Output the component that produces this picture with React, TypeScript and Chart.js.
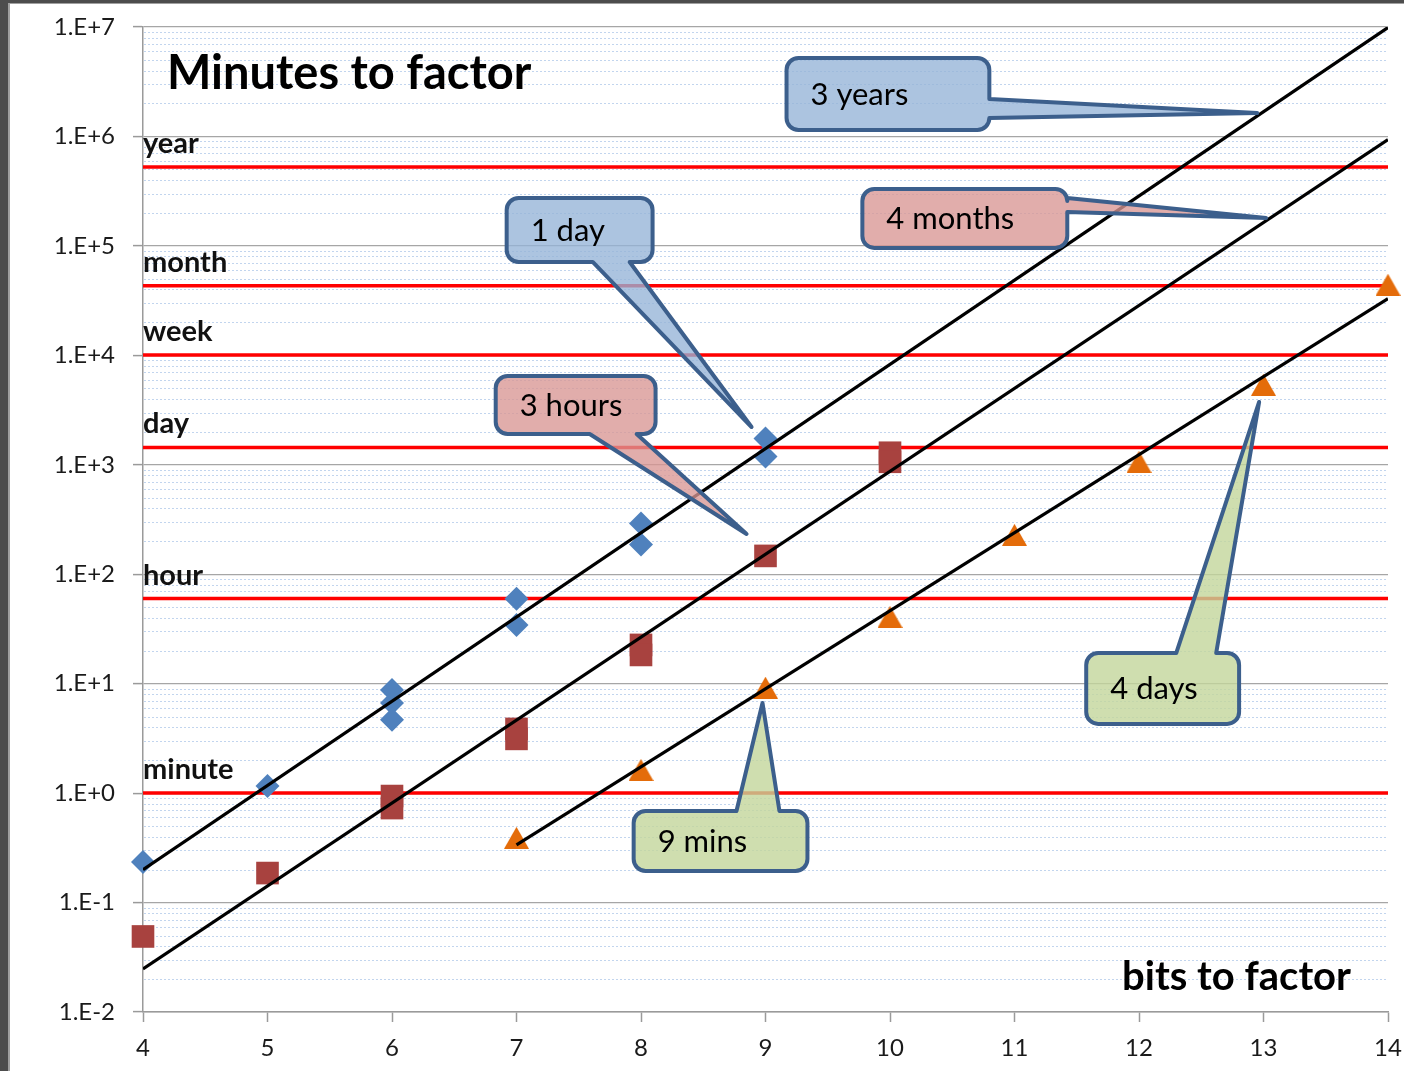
import React, { useEffect, useRef } from 'react';
import { Chart, registerables } from 'chart.js';

Chart.register(...registerables);

// ---------------- data ----------------
const bitTicks = [4, 5, 6, 7, 8, 9, 10, 11, 12, 13, 14];
const yTickValues = [1e-2, 1e-1, 1e0, 1e1, 1e2, 1e3, 1e4, 1e5, 1e6, 1e7];
const yTickLabels = ['1.E-2', '1.E-1', '1.E+0', '1.E+1', '1.E+2', '1.E+3', '1.E+4', '1.E+5', '1.E+6', '1.E+7'];

const blueBits = [4, 5, 6, 6, 6, 7, 7, 8, 8, 9, 9];
const blueMinutes = [0.235, 1.16, 8.77, 6.67, 4.67, 59.6, 34.4, 291, 187, 1738, 1191];

const redBits = [4, 5, 6, 6, 7, 7, 8, 8, 9, 10, 10];
const redMinutes = [0.049, 0.186, 0.94, 0.73, 3.86, 3.13, 22.6, 18.3, 147, 1288, 1065];

const orangeBits = [7, 8, 9, 10, 11, 12, 13, 14];
const orangeMinutes = [0.39, 1.63, 9.2, 40.8, 229, 1065, 5380, 44200];

const fitBlueBits = [4, 14];
const fitBlueMinutes = [0.2, 9.9e6];
const fitRedBits = [4, 14];
const fitRedMinutes = [0.0247, 9.35e5];
const fitOrangeBits = [7, 14];
const fitOrangeMinutes = [0.336, 32900];

const unitNames = ['minute', 'hour', 'day', 'week', 'month', 'year'];
const unitMinutes = [1, 60, 1440, 10080, 43200, 525600];

const titleText = 'Minutes to factor';
const xTitleText = 'bits to factor';

// callouts: box corners / pointer base / tip in data coords (x in bits, y as log10 minutes)
const callouts = [
  { text: '3 years', color: 'blue', x1: 9.169, x2: 10.798, l1: 6.717, l2: 6.059, edge: 'right', a: 6.342, b: 6.169, tipX: 12.949, tipL: 6.214 },
  { text: '4 months', color: 'pink', x1: 9.778, x2: 11.424, l1: 5.52, l2: 4.981, edge: 'right', a: 5.438, b: 5.31, tipX: 13.021, tipL: 5.255 },
  { text: '1 day', color: 'blue', x1: 6.921, x2: 8.093, l1: 5.438, l2: 4.853, edge: 'bottom', a: 7.612, b: 7.909, tipX: 8.888, tipL: 3.345 },
  { text: '3 hours', color: 'pink', x1: 6.833, x2: 8.117, l1: 3.811, l2: 3.281, edge: 'bottom', a: 7.588, b: 7.965, tipX: 8.848, tipL: 2.368 },
  { text: '4 days', color: 'green', x1: 11.576, x2: 12.804, l1: 1.28, l2: 0.632, edge: 'top', a: 12.299, b: 12.62, tipX: 12.965, tipL: 3.574 },
  { text: '9 mins', color: 'green', x1: 7.941, x2: 9.337, l1: -0.163, l2: -0.712, edge: 'top', a: 8.767, b: 9.112, tipX: 8.976, tipL: 0.823 },
];

// ---------------- styles ----------------
const FONT = 'Lato, "Open Sans", sans-serif';
const calloutFill: Record<string, string> = {
  blue: 'rgba(149,179,215,0.78)',
  pink: 'rgba(217,150,148,0.78)',
  green: 'rgba(195,214,155,0.8)',
};
const calloutBorder = '#3C5F8C';

function zip(xs: number[], ys: number[]) {
  return xs.map((x, i) => ({ x, y: ys[i] }));
}

function makeTriangle(w: number, h: number, color: string) {
  const c = document.createElement('canvas');
  c.width = w;
  c.height = h;
  const g = c.getContext('2d')!;
  g.fillStyle = color;
  g.beginPath();
  g.moveTo(w / 2, 0);
  g.lineTo(w, h);
  g.lineTo(0, h);
  g.closePath();
  g.fill();
  return c;
}

const decorPlugin = {
  id: 'decor',
  beforeDraw(chart: any) {
    const ctx = chart.ctx;
    ctx.save();
    ctx.fillStyle = '#ffffff';
    ctx.fillRect(0, 0, chart.width, chart.height);
    ctx.fillStyle = '#4d4d4d';
    ctx.fillRect(0, 0, 8, chart.height);
    ctx.fillRect(0, 0, chart.width, 3);
    ctx.fillStyle = '#a0a0a0';
    ctx.fillRect(8, 3, 2, chart.height);
    ctx.fillRect(8, 3, chart.width, 1);
    ctx.restore();
  },
  beforeDatasetsDraw(chart: any) {
    const ctx = chart.ctx;
    const ys = chart.scales.y;
    const { left, right } = chart.chartArea;
    ctx.save();
    ctx.strokeStyle = '#c2d5ee';
    ctx.lineWidth = 1;
    ctx.setLineDash([2, 2]);
    for (let d = -2; d < 7; d++) {
      for (let m = 2; m <= 9; m++) {
        const py = Math.round(ys.getPixelForValue(m * Math.pow(10, d))) + 0.5;
        ctx.beginPath();
        ctx.moveTo(left + 1, py);
        ctx.lineTo(right, py);
        ctx.stroke();
      }
    }
    ctx.restore();
  },
  afterDatasetsDraw(chart: any) {
    const ctx = chart.ctx;
    const xs = chart.scales.x;
    const ys = chart.scales.y;
    const { left, top } = chart.chartArea;
    ctx.save();
    // unit labels
    ctx.fillStyle = '#111';
    ctx.font = `bold 29px ${FONT}`;
    ctx.textAlign = 'left';
    ctx.textBaseline = 'alphabetic';
    unitNames.forEach((n, i) => {
      const py = ys.getPixelForValue(unitMinutes[i]);
      ctx.fillText(n, xs.getPixelForValue(bitTicks[0]), py - 14);
    });
    // titles
    ctx.font = `bold 47px ${FONT}`;
    ctx.fillStyle = '#000';
    ctx.fillText(titleText, left + 24, top + 62);
    ctx.font = `bold 40px ${FONT}`;
    ctx.textAlign = 'right';
    ctx.fillText(xTitleText, xs.getPixelForValue(13.703), ys.getPixelForValue(0.0159));

    // callouts
    ctx.lineWidth = 4;
    ctx.lineJoin = 'round';
    callouts.forEach((c) => {
      const x1 = xs.getPixelForValue(c.x1);
      const x2 = xs.getPixelForValue(c.x2);
      const y1 = ys.getPixelForValue(Math.pow(10, c.l1));
      const y2 = ys.getPixelForValue(Math.pow(10, c.l2));
      const tx = xs.getPixelForValue(c.tipX);
      const ty = ys.getPixelForValue(Math.pow(10, c.tipL));
      let pa: number, pb: number;
      if (c.edge === 'right') {
        pa = ys.getPixelForValue(Math.pow(10, c.a));
        pb = ys.getPixelForValue(Math.pow(10, c.b));
      } else {
        pa = xs.getPixelForValue(c.a);
        pb = xs.getPixelForValue(c.b);
      }
      if (pa > pb) { const t = pa; pa = pb; pb = t; }
      const r = 12;
      ctx.beginPath();
      ctx.moveTo(x1 + r, y1);
      if (c.edge === 'top') { ctx.lineTo(pa, y1); ctx.lineTo(tx, ty); ctx.lineTo(pb, y1); }
      ctx.lineTo(x2 - r, y1);
      ctx.arcTo(x2, y1, x2, y1 + r, r);
      if (c.edge === 'right') { ctx.lineTo(x2, pa); ctx.lineTo(tx, ty); ctx.lineTo(x2, pb); }
      ctx.lineTo(x2, y2 - r);
      ctx.arcTo(x2, y2, x2 - r, y2, r);
      if (c.edge === 'bottom') { ctx.lineTo(pb, y2); ctx.lineTo(tx, ty); ctx.lineTo(pa, y2); }
      ctx.lineTo(x1 + r, y2);
      ctx.arcTo(x1, y2, x1, y2 - r, r);
      ctx.lineTo(x1, y1 + r);
      ctx.arcTo(x1, y1, x1 + r, y1, r);
      ctx.closePath();
      ctx.fillStyle = calloutFill[c.color];
      ctx.fill();
      ctx.strokeStyle = calloutBorder;
      ctx.stroke();
      ctx.fillStyle = '#000';
      ctx.font = `31px ${FONT}`;
      ctx.textAlign = 'left';
      ctx.textBaseline = 'middle';
      ctx.fillText(c.text, x1 + 24, (y1 + y2) / 2 + 1);
    });
    ctx.restore();
  },
};

export default function App() {
  const ref = useRef<HTMLCanvasElement>(null);
  useEffect(() => {
    if (!ref.current) return;
    const tri = makeTriangle(25, 22, '#E46C0A');
    const unitSets = unitNames.map((n, i) => ({
      type: 'scatter' as const,
      label: n,
      data: [{ x: bitTicks[0], y: unitMinutes[i] }, { x: bitTicks[bitTicks.length - 1], y: unitMinutes[i] }],
      showLine: true,
      borderColor: '#ff0000',
      borderWidth: 3.5,
      pointRadius: 0,
      order: 2,
      clip: false as any,
    }));
    const fitSet = (xs: number[], ys: number[]) => ({
      type: 'scatter' as const,
      data: zip(xs, ys),
      showLine: true,
      borderColor: '#000000',
      borderWidth: 3.2,
      pointRadius: 0,
      order: 0,
    });
    const chart = new Chart(ref.current, {
      type: 'scatter',
      data: {
        datasets: [
          ...unitSets,
          {
            data: zip(blueBits, blueMinutes),
            pointStyle: 'rectRot',
            pointRadius: 12,
            pointBackgroundColor: '#4F81BD',
            pointBorderWidth: 0,
            borderWidth: 0,
            order: 1,
            clip: false as any,
          },
          {
            data: zip(redBits, redMinutes),
            pointStyle: 'rect',
            pointRadius: 16,
            pointBackgroundColor: '#A8423F',
            pointBorderWidth: 0,
            borderWidth: 0,
            order: 1,
            clip: false as any,
          },
          {
            data: zip(orangeBits, orangeMinutes),
            pointStyle: tri as any,
            pointRadius: 12,
            pointBackgroundColor: '#E46C0A',
            pointBorderWidth: 0,
            borderWidth: 0,
            order: 1,
            clip: false as any,
          },
          fitSet(fitBlueBits, fitBlueMinutes),
          fitSet(fitRedBits, fitRedMinutes),
          fitSet(fitOrangeBits, fitOrangeMinutes),
        ] as any,
      },
      options: {
        responsive: false,
        animation: false,
        events: [],
        layout: { padding: { top: 27, right: 15, left: 0, bottom: 0 } },
        plugins: { legend: { display: false }, tooltip: { enabled: false } },
        scales: {
          x: {
            type: 'linear',
            min: bitTicks[0],
            max: bitTicks[bitTicks.length - 1],
            afterBuildTicks: (s: any) => { s.ticks = bitTicks.map((v) => ({ value: v })); },
            afterFit: (s: any) => { s.height = 59; s.paddingLeft = 0; s.paddingRight = 0; },
            grid: { drawOnChartArea: false, drawTicks: true, tickLength: 10, tickColor: '#9a9a9a', tickWidth: 1.5 },
            border: { display: true, color: '#9a9a9a', width: 1.5 },
            ticks: { color: '#1a1a1a', font: { family: FONT, size: 24 }, padding: 12, callback: (v: any) => String(v) },
          },
          y: {
            type: 'logarithmic',
            min: yTickValues[0],
            max: yTickValues[yTickValues.length - 1],
            afterBuildTicks: (s: any) => { s.ticks = yTickValues.map((v) => ({ value: v, major: true })); },
            afterFit: (s: any) => { s.width = 143; s.paddingTop = 0; s.paddingBottom = 0; },
            grid: { color: '#a6a6a6', lineWidth: 1.2, drawTicks: true, tickLength: 10, tickColor: '#9a9a9a', tickWidth: 1.5 },
            border: { display: true, color: '#9a9a9a', width: 1.5 },
            ticks: {
              color: '#1a1a1a',
              font: { family: FONT, size: 24 },
              padding: 18,
              autoSkip: false,
              callback: (_v: any, i: number) => yTickLabels[i],
            },
          },
        },
      } as any,
      plugins: [decorPlugin],
    });
    return () => chart.destroy();
  }, []);
  return (
    <div style={{ position: 'absolute', left: 0, top: 0, width: 1404, height: 1071, background: '#fff' }}>
      <canvas ref={ref} width={1404} height={1071} style={{ display: 'block' }} />
    </div>
  );
}
